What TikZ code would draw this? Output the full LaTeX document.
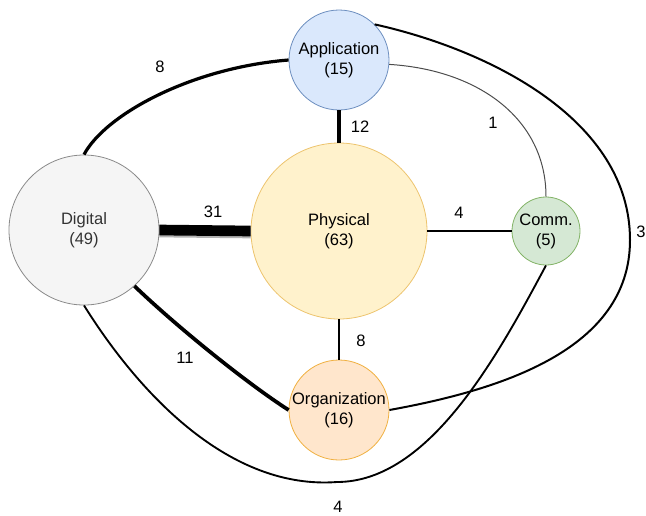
\documentclass[tikz,border=0pt]{standalone}
\usepackage{fontspec}
\setmainfont{Liberation Sans}

\definecolor{appfill}{HTML}{DAE8FC}
\definecolor{appline}{HTML}{6C8EBF}
\definecolor{digfill}{HTML}{F5F5F5}
\definecolor{digline}{HTML}{8A8A8A}
\definecolor{physfill}{HTML}{FFF2CC}
\definecolor{physline}{HTML}{EDC46E}
\definecolor{commfill}{HTML}{D5E8D4}
\definecolor{commline}{HTML}{82B366}
\definecolor{orgfill}{HTML}{FFE6CC}
\definecolor{orgline}{HTML}{F0B040}

\begin{document}
\begin{tikzpicture}[x=0.75pt,y=0.75pt,
    every node/.style={font=\fontsize{12.4}{15}\selectfont, align=center},
    topic/.style={circle, draw, inner sep=0pt, line width=0.6pt},
    weight/.style={text=black}]
    \useasboundingbox (0,0) rectangle (646,-515);

    % topics
    \node[topic, fill=appfill, draw=appline, minimum size=75pt] (app) at (339,-60) {Application\\(15)};
    \node[topic, fill=digfill, draw=digline, text=black!80, minimum size=112.5pt] (dig) at (84,-230) {Digital\\(49)};
    \node[topic, fill=physfill, draw=physline, minimum size=132pt] (phys) at (339,-231) {Physical\\(63)};
    \node[topic, fill=commfill, draw=commline, minimum size=51pt] (comm) at (546,-231) {Comm.\\(5)};
    \node[topic, fill=orgfill, draw=orgline, minimum size=75pt] (org) at (339,-410) {Organization\\(16)};

    % straight links
    \draw[line width=2.6pt] (app) -- (phys);
    \draw[black!30, line width=8pt] ([yshift=-1.5pt]dig.east) -- ([yshift=-1.5pt]phys.west);
    \draw[line width=8pt] (dig.east) -- (phys.west);
    \draw[line width=1.7pt] (phys.east) -- (comm.west);
    \draw[line width=2pt] (phys) -- (org);

    % curved links
    \draw[line width=2.4pt] (dig.north) .. controls (105,-115) and (190,-68) .. (app.west);
    \draw[line width=2.8pt] (dig.-48) .. controls (175,-325) and (245,-382) .. (org.west);
    \draw[black!70, line width=0.75pt] (app.-5) .. controls (480,-70) and (546,-120) .. (comm.north);
    \coordinate (bend3) at (630,-240);
    \draw[line width=1.5pt] (app.45) .. controls (490,-50) and (630,-120) .. (bend3)
        .. controls (630,-350) and (500,-390) .. (org.east);
    \coordinate (bend4) at (337,-482);
    \draw[line width=1.4pt] (dig.south) .. controls (140,-395) and (230,-490) .. (bend4)
        .. controls (430,-482) and (499,-353) .. (comm.south);

    % weights
    \node[weight] (w8a) at (160,-67) {8};
    \node[weight] (w12) at (360,-127) {12};
    \node[weight] (w1) at (493,-123) {1};
    \node[weight] (w31) at (213,-212) {31};
    \node[weight] (w4a) at (459,-213) {4};
    \node[weight] (w3) at (641,-232) {3};
    \node[weight] (w8b) at (361,-341) {8};
    \node[weight] (w11) at (185,-358) {11};
    \node[weight] (w4b) at (338,-507) {4};
\end{tikzpicture}
\end{document}
